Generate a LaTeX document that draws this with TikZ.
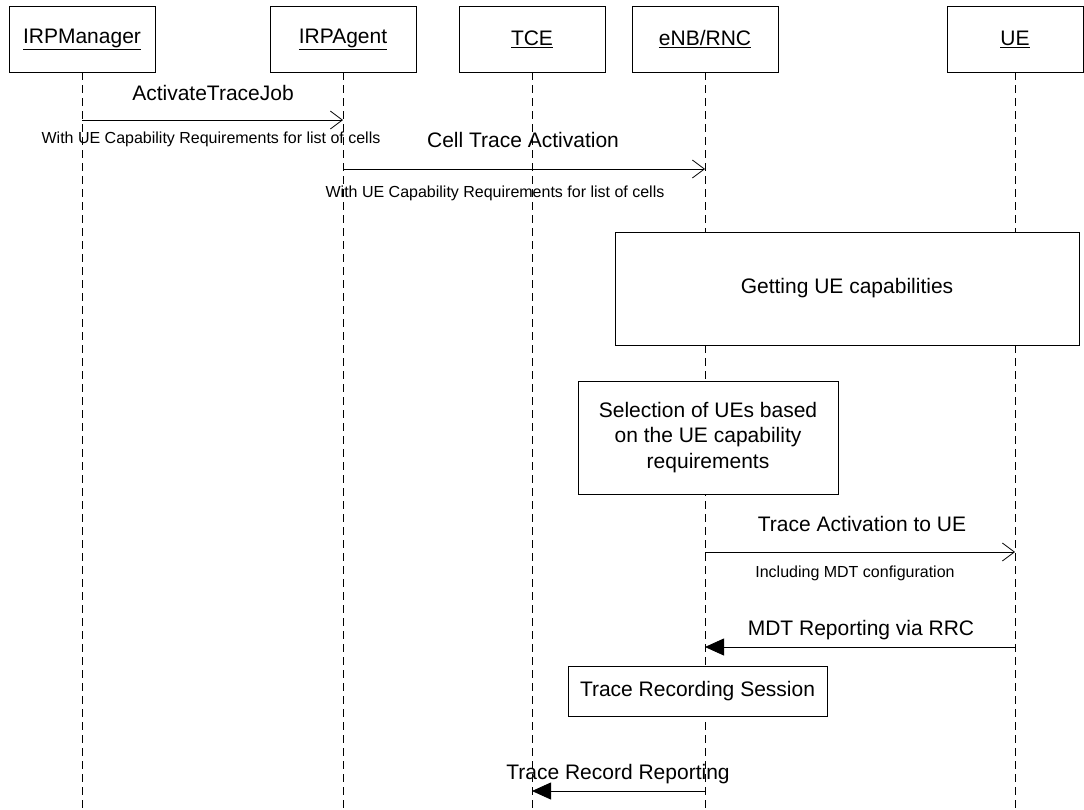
\documentclass[tikz,border=0pt]{standalone}
\usepackage{fontspec}
\setmainfont{Liberation Sans}
\usetikzlibrary{positioning,arrows.meta}

\begin{document}
\begin{tikzpicture}[x=1pt, y=-1pt, node distance=0pt,
ActorStyle/.style={draw, fill=white, line width=0.9pt, minimum width=146pt,
                minimum height=66pt, outer sep=0pt, font=\fontsize{21}{25}\selectfont},
NoteStyle/.style={draw, fill=white, line width=0.9pt, outer sep=0pt, align=center,
                font=\fontsize{21}{25.5}\selectfont},
LifeStyle/.style={dash pattern=on 8pt off 5pt, line width=0.8pt},
OpenMsg/.style={-{Straight Barb[length=12pt,width=18pt]}, line width=0.8pt},
FilledMsg/.style={-{Triangle[length=19pt,width=17pt]}, line width=0.8pt},
MainLabel/.style={anchor=base, inner sep=0pt, font=\fontsize{21}{25}\selectfont},
SubLabel/.style={anchor=base, inner sep=0pt, font=\fontsize{16}{19}\selectfont},]
\useasboundingbox (0,0) rectangle (1084,809);
\node [ActorStyle] (mgr) at (82,39) {\underline{IRPManager}};
\node [ActorStyle] (agent) at (343,39) {\underline{IRPAgent}};
\node [ActorStyle] (tce) at (532,39) {\underline{TCE}};
\node [ActorStyle] (enb) at (705,39) {\underline{eNB/RNC}};
\node [ActorStyle, minimum width=136pt] (ue) at (1015,39) {\underline{UE}};
\coordinate (bottom) at (0,809);
\foreach \n in {mgr,agent,tce,enb,ue}
  \draw [LifeStyle] (\n.south) -- (\n.south |- bottom);

\coordinate (row1) at (0,120);
\coordinate (row2) at (0,169);
\coordinate (row3) at (0,552);
\coordinate (row4) at (0,647);
\coordinate (row5) at (0,791);

\draw [OpenMsg] (mgr |- row1) -- (agent |- row1);
\node [MainLabel] (activate) at (213,100) {ActivateTraceJob};
\node [SubLabel] (activatesub) at (211,143) {With UE Capability Requirements for list of cells};

\draw [OpenMsg] (agent |- row2) -- (enb |- row2);
\node [MainLabel] (cellact) at (523,147) {Cell Trace Activation};
\node [SubLabel] (cellactsub) at (495,197) {With UE Capability Requirements for list of cells};

\node [NoteStyle, minimum width=464pt, minimum height=113pt] (getcap) at (847,288.5)
  {Getting UE capabilities};
\node [NoteStyle, minimum width=260pt, minimum height=113pt] (select) at (708,437.5)
  {Selection of UEs based\\on the UE capability\\requirements};

\draw [OpenMsg] (enb |- row3) -- (ue |- row3);
\node [MainLabel] (ueact) at (862,531) {Trace Activation to UE};
\node [SubLabel] (ueactsub) at (855,577) {Including MDT configuration};

\draw [FilledMsg] (ue |- row4) -- (enb |- row4);
\node [MainLabel] (mdtrep) at (861,635) {MDT Reporting via RRC};

\node [NoteStyle, minimum width=259pt, minimum height=50pt] (session) at (697.5,691)
  {Trace Recording Session};

\draw [FilledMsg] (enb |- row5) -- (tce |- row5);
\node [MainLabel] (recrep) at (618,779) {Trace Record Reporting};
\end{tikzpicture}
\end{document}
